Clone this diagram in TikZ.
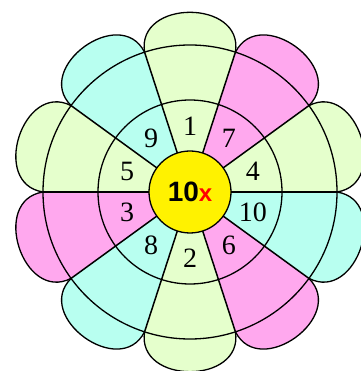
\documentclass[tikz,border=0pt]{standalone}
\usepackage{fontspec}
\setmainfont{Liberation Serif}
\setsansfont{Liberation Sans}
\definecolor{leaf}{RGB}{229,255,204}
\definecolor{aqua}{RGB}{184,255,240}
\definecolor{rose}{RGB}{255,168,238}
\tikzset{
            rim/.style={line width=1.3pt},
            spoke/.style={line width=1.5pt},
            num/.style={font=\fontsize{28}{30}\selectfont, inner sep=0pt}
        }

\begin{document}
\begin{tikzpicture}[x=1pt,y=1pt]
    \useasboundingbox (-190,-179) rectangle (170,192);
    % coloured sectors with their petals
    \foreach \a/\c in {90/leaf, 54/rose, 18/leaf, -18/aqua, -54/rose, -90/leaf, -126/aqua, -162/rose, 162/leaf, 126/aqua}{
        \begin{scope}[rotate=\a]
            \fill[\c] (0,0) -- (139.8,-45.4) .. controls (193,-54) and (193,54) .. (139.8,45.4) -- cycle;
            \draw[rim] (139.8,-45.4) .. controls (193,-54) and (193,54) .. (139.8,45.4);
        \end{scope}
    }
    \draw[rim] (0,0) circle (92);
    \draw[rim] (0,0) circle (147);
    \foreach \b in {0,36,...,324}
        \draw[spoke] (\b:40) -- (\b:147);
    % numbers
    \foreach \a/\n in {90/1, 54/7, 18/4, -18/10, -54/6, -90/2, -126/8, -162/3, 162/5, 126/9}
        \node[num] (n\n) at (\a:66) {\n};
    \node[circle, draw, rim, fill=yellow, minimum size=82pt, inner sep=0pt] (hub) at (0,0)
        {\sffamily\bfseries\fontsize{28}{30}\selectfont 10\textcolor{red}{\fontsize{24}{26}\selectfont x}};
\end{tikzpicture}
\end{document}
